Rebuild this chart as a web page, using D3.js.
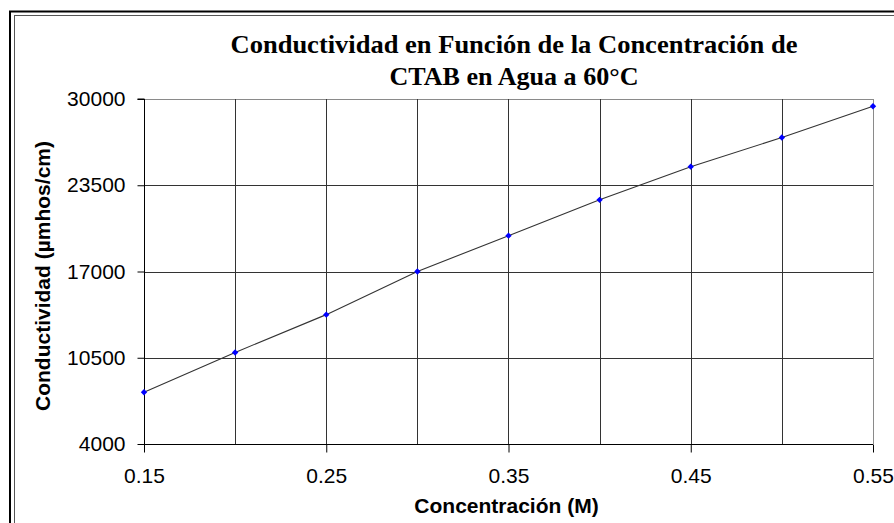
<!DOCTYPE html>
<html>
<head>
<meta charset="utf-8">
<script src="https://cdn.jsdelivr.net/npm/d3@7"></script>
<style>
  html, body { margin: 0; padding: 0; background: #fff; }
  svg { display: block; }
</style>
</head>
<body>
<div id="chart"></div>
<script>
// Conductivity of CTAB in water at 60 °C versus concentration
const concentration = [0.15, 0.20, 0.25, 0.30, 0.35, 0.40, 0.45, 0.50, 0.55];
const conductivity  = [7900, 10900, 13750, 17000, 19700, 22400, 24900, 27100, 29450];

const yTickValues = [4000, 10500, 17000, 23500, 30000];
const xTickValues = [0.15, 0.25, 0.35, 0.45, 0.55];
const xGridValues = [0.15, 0.20, 0.25, 0.30, 0.35, 0.40, 0.45, 0.50, 0.55];

const titleLines = ["Conductividad en Función de la Concentración de", "CTAB en Agua a 60°C"];
const xTitle = "Concentración (M)";
const yTitle = "Conductividad (µmhos/cm)";

const W = 894, H = 523;
const plot = { left: 144, right: 873, top: 99, bottom: 444 };

const svg = d3.select("#chart").append("svg")
  .attr("width", W).attr("height", H);

svg.append("rect").attr("width", W).attr("height", H).attr("fill", "#fff");

// double frame around the chart object
svg.append("rect")
  .attr("x", 10).attr("y", 11.5).attr("width", 1000).attr("height", 700)
  .attr("fill", "none").attr("stroke", "#000").attr("stroke-width", 2);
svg.append("rect")
  .attr("x", 14.5).attr("y", 15.5).attr("width", 1000).attr("height", 700)
  .attr("fill", "none").attr("stroke", "#555").attr("stroke-width", 1);

const x = d3.scaleLinear().domain([0.15, 0.55]).range([plot.left, plot.right]);
const y = d3.scaleLinear().domain([4000, 30000]).range([plot.bottom, plot.top]);

// plot area border (top/right lighter)
svg.append("line")
  .attr("x1", plot.left).attr("x2", plot.right)
  .attr("y1", plot.top + 0.5).attr("y2", plot.top + 0.5)
  .attr("stroke", "#8a8a8a").attr("stroke-width", 1);
svg.append("line")
  .attr("x1", plot.right + 0.5).attr("x2", plot.right + 0.5)
  .attr("y1", plot.top).attr("y2", plot.bottom)
  .attr("stroke", "#8a8a8a").attr("stroke-width", 1);

// gridlines
svg.append("g").selectAll("line")
  .data(yTickValues.filter(v => v !== 30000 && v !== 4000))
  .join("line")
  .attr("x1", plot.left).attr("x2", plot.right)
  .attr("y1", d => Math.round(y(d)) + 0.5).attr("y2", d => Math.round(y(d)) + 0.5)
  .attr("stroke", "#333").attr("stroke-width", 1);

svg.append("g").selectAll("line")
  .data(xGridValues.filter(v => v !== 0.15 && v !== 0.55))
  .join("line")
  .attr("x1", d => Math.round(x(d)) + 0.5).attr("x2", d => Math.round(x(d)) + 0.5)
  .attr("y1", plot.top).attr("y2", plot.bottom)
  .attr("stroke", "#333").attr("stroke-width", 1);

// axes
const yAxis = d3.axisLeft(y)
  .tickValues(yTickValues)
  .tickSize(7)
  .tickPadding(12)
  .tickFormat(d3.format("d"));

const gy = svg.append("g")
  .attr("transform", `translate(${plot.left + 0.5},0)`)
  .call(yAxis);
gy.select(".domain").attr("stroke", "#000").attr("d", `M-7,${plot.top}H0V${plot.bottom + 8}`);
gy.selectAll(".tick line").attr("stroke", "#000");
gy.selectAll(".tick text")
  .attr("font-family", "Liberation Sans, Arial, sans-serif")
  .attr("font-size", 21).attr("fill", "#000");

const xAxis = d3.axisBottom(x)
  .tickValues(xTickValues)
  .tickSize(8)
  .tickPadding(16)
  .tickFormat(d3.format(".2f"));

const gx = svg.append("g")
  .attr("transform", `translate(0,${plot.bottom + 0.5})`)
  .call(xAxis);
gx.select(".domain").attr("stroke", "#000").attr("d", `M${plot.left},0H${plot.right}`);
gx.selectAll(".tick line").attr("stroke", "#000");
gx.selectAll(".tick text")
  .attr("font-family", "Liberation Sans, Arial, sans-serif")
  .attr("font-size", 21).attr("fill", "#000");

// data line and markers
const line = d3.line()
  .x((d, i) => x(concentration[i]))
  .y(d => y(d));

svg.append("path")
  .datum(conductivity)
  .attr("d", line)
  .attr("fill", "none")
  .attr("stroke", "#333")
  .attr("stroke-width", 1.1);

const diamond = d3.symbol().type(d3.symbolDiamond2 || d3.symbolDiamond).size(26);
svg.append("g").selectAll("path")
  .data(conductivity)
  .join("path")
  .attr("d", diamond)
  .attr("transform", (d, i) => `translate(${x(concentration[i])},${y(d)})`)
  .attr("fill", "#0000ff");

// title
const titleY = [53, 85];
const titleWidths = [567, 249];
titleLines.forEach((t, i) => {
  svg.append("text")
    .attr("x", 514).attr("y", titleY[i])
    .attr("text-anchor", "middle")
    .attr("font-family", "Liberation Serif, 'Times New Roman', serif")
    .attr("font-weight", "bold")
    .attr("font-size", 25)
    .attr("textLength", titleWidths[i])
    .attr("lengthAdjust", "spacingAndGlyphs")
    .attr("fill", "#000")
    .text(t);
});

// axis titles
svg.append("text")
  .attr("x", (plot.left + plot.right) / 2 - 2).attr("y", 513)
  .attr("text-anchor", "middle")
  .attr("font-family", "Liberation Sans, Arial, sans-serif")
  .attr("font-weight", "bold").attr("font-size", 21)
  .attr("fill", "#000")
  .text(xTitle);

svg.append("text")
  .attr("transform", "translate(50,276) rotate(-90)")
  .attr("text-anchor", "middle")
  .attr("font-family", "Liberation Sans, Arial, sans-serif")
  .attr("font-weight", "bold").attr("font-size", 21)
  .attr("fill", "#000")
  .text(yTitle);
</script>
</body>
</html>
